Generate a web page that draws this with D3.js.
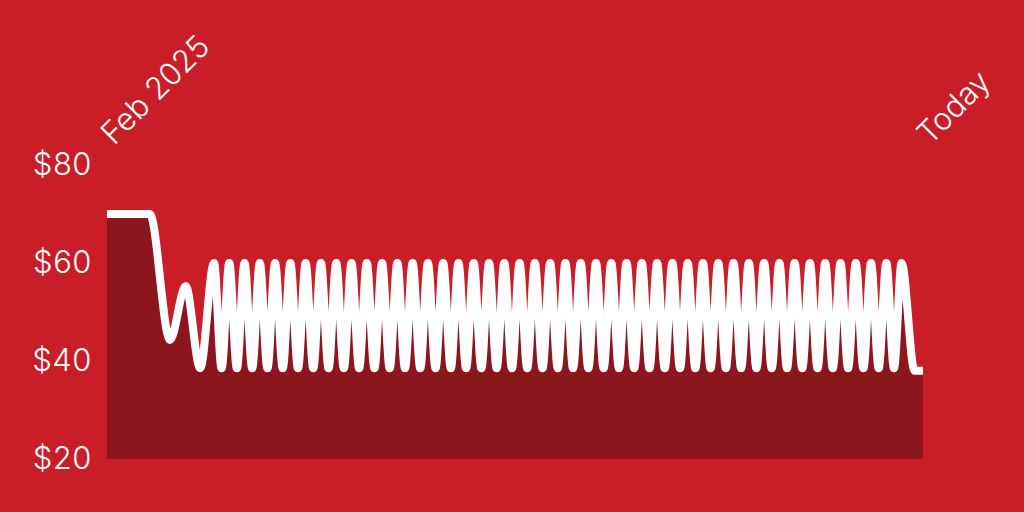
<!DOCTYPE html>
<html>
<head>
<meta charset="utf-8">
<script src="https://cdn.jsdelivr.net/npm/d3@7"></script>
<style>
  html, body { margin: 0; padding: 0; background: #c91d27; overflow: hidden; }
  text { font-family: Inter, "Liberation Sans", sans-serif; font-weight: 300; }
</style>
</head>
<body>
<div id="chart"></div>
<script>
// price history, x in days since the start
var days = [0, 5.6, 8.25, 10.3, 12.2,
  14, 15, 16, 17, 18, 19, 20, 21, 22, 23,
  24, 25, 26, 27, 28, 29, 30, 31, 32, 33,
  34, 35, 36, 37, 38, 39, 40, 41, 42, 43,
  44, 45, 46, 47, 48, 49, 50, 51, 52, 53,
  54, 55, 56, 57, 58, 59, 60, 61, 62, 63,
  64, 65, 66, 67, 68, 69, 70, 71, 72, 73,
  74, 75, 76, 77, 78, 79, 80, 81, 82, 83,
  84, 85, 86, 87, 88, 89, 90, 91, 92, 93,
  94, 95, 96, 97, 98, 99, 100, 101, 102, 103,
  104, 105.7, 106.8];

var prices = [70, 70, 44.3, 55.3, 38.5,
  60, 38.5, 60, 38.5, 60, 38.5, 60, 38.5, 60, 38.5,
  60, 38.5, 60, 38.5, 60, 38.5, 60, 38.5, 60, 38.5,
  60, 38.5, 60, 38.5, 60, 38.5, 60, 38.5, 60, 38.5,
  60, 38.5, 60, 38.5, 60, 38.5, 60, 38.5, 60, 38.5,
  60, 38.5, 60, 38.5, 60, 38.5, 60, 38.5, 60, 38.5,
  60, 38.5, 60, 38.5, 60, 38.5, 60, 38.5, 60, 38.5,
  60, 38.5, 60, 38.5, 60, 38.5, 60, 38.5, 60, 38.5,
  60, 38.5, 60, 38.5, 60, 38.5, 60, 38.5, 60, 38.5,
  60, 38.5, 60, 38.5, 60, 38.5, 60, 38.5, 60, 38.5,
  60, 38, 38];

var priceTicks = [20, 40, 60, 80];
var dateLabels = ["Feb 2025", "Today"];

var width = 1024,
    height = 512;

var data = days.map(function(d, i){ return [d, prices[i]]; });

var svg = d3.select("#chart").append("svg")
    .attr("width", width)
    .attr("height", height);

svg.append("rect")
    .attr("width", width)
    .attr("height", height)
    .attr("fill", "#c91d27");

var x = d3.scaleLinear()
    .domain([0, d3.max(days)])
    .range([107, 923]);

var y = d3.scaleLinear()
    .domain([20, 80])
    .range([459, 165]);

// dark fill under the line
svg.append("path")
    .datum(data)
    .attr("fill", "#8c161d")
    .attr("d", d3.area()
        .x(function(d){ return x(d[0]); })
        .y0(y(20))
        .y1(function(d){ return y(d[1]); })
        .curve(d3.curveMonotoneX));

svg.append("path")
    .datum(data)
    .attr("fill", "none")
    .attr("stroke", "#fff")
    .attr("stroke-width", 8)
    .attr("stroke-linejoin", "round")
    .attr("d", d3.line()
        .x(function(d){ return x(d[0]); })
        .y(function(d){ return y(d[1]); })
        .curve(d3.curveMonotoneX));

// y labels
var yAxis = svg.append("g")
    .attr("transform", "translate(92,0)")
    .call(d3.axisLeft(y).tickValues(priceTicks).tickSize(0).tickPadding(0)
        .tickFormat(function(d){ return "$" + d; }));
yAxis.select(".domain").remove();
yAxis.selectAll("text")
    .attr("fill", "#fff")
    .style("font-size", "31px")
    .style("letter-spacing", "0.5px")
    .style("font-family", "Inter, 'Liberation Sans', sans-serif");

// rotated date labels at both ends
svg.selectAll(".date")
    .data(dateLabels)
    .enter().append("text")
    .attr("class", "date")
    .attr("transform", function(d, i){
        var px = i === 0 ? x(0) : x(d3.max(days));
        return "translate(" + (px + 7) + ",146) rotate(-45)";
    })
    .attr("fill", "#fff")
    .style("font-size", "31px")
    .text(function(d){ return d; });
</script>
</body>
</html>
